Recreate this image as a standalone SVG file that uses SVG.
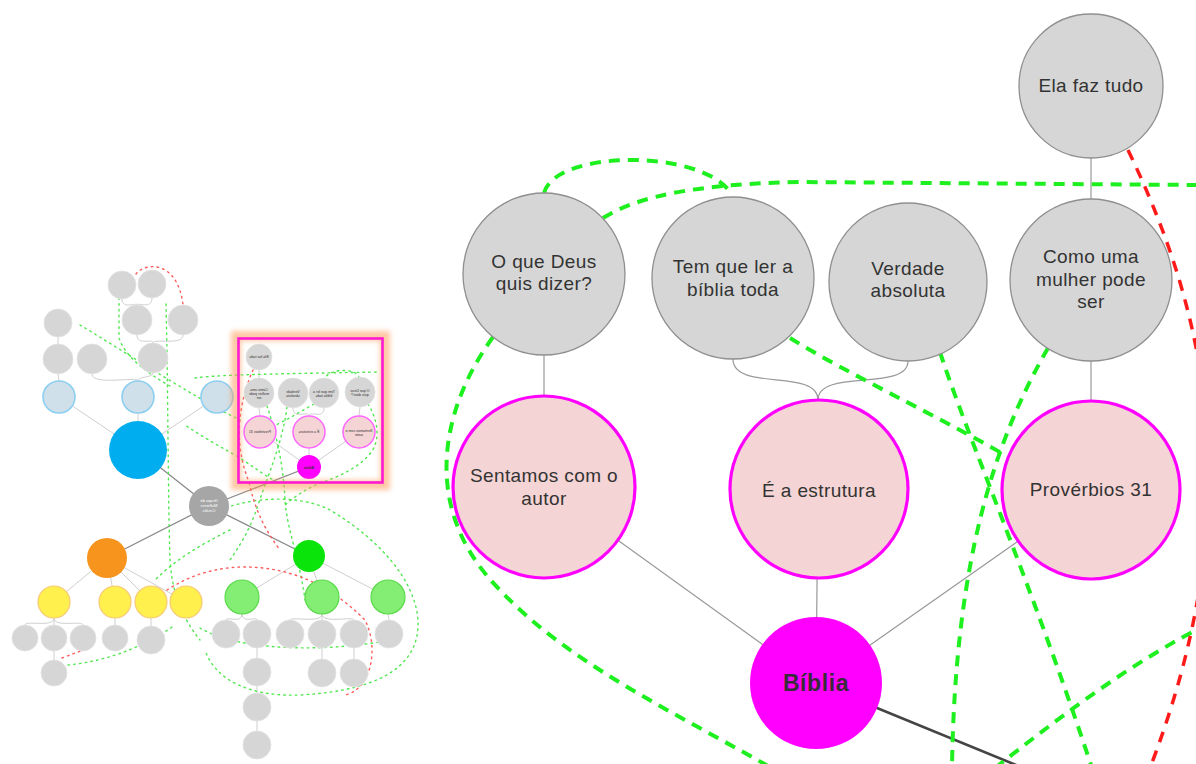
<svg xmlns="http://www.w3.org/2000/svg" width="1196" height="764" viewBox="0 0 1196 764">
<defs>
<style>
.g{fill:#d6d6d6;stroke:#8f8f8f;stroke-width:1.3}
.p{fill:#f4d4d4;stroke:#ff00ff;stroke-width:3.2}
.t{font-family:"Liberation Sans",Arial,sans-serif;font-size:19px;fill:#333;text-anchor:middle;letter-spacing:0.4px}
.tb{font-family:"Liberation Sans",Arial,sans-serif;font-size:23px;font-weight:bold;fill:#3a2a3a;text-anchor:middle;letter-spacing:0.6px}
.e{fill:none;stroke:#999;stroke-width:1.2}
.gd{fill:none;stroke:#1eef1e;stroke-width:4;stroke-dasharray:11 8}
.rd{fill:none;stroke:#ff1a1a;stroke-width:3.5;stroke-dasharray:11 9}
.mg{fill:#d6d6d6;stroke:#e2e2e2;stroke-width:0.8}
.mlb{fill:#cfe0ea;stroke:#8ccff0;stroke-width:1.6}
.my{fill:#fff04d;stroke:#f8c878;stroke-width:1.2}
.mlg{fill:#84ee74;stroke:#5ad94a;stroke-width:1.2}
.mp{fill:#f4d4d4;stroke:#ff66ff;stroke-width:1.5}
.me{fill:none;stroke:#cfcfcf;stroke-width:1}
.md{fill:none;stroke:#8a8a8a;stroke-width:1.3}
.mgd{fill:none;stroke:#4fe84f;stroke-width:1.4;stroke-dasharray:1.6 4.2;stroke-linecap:round}
.mrd{fill:none;stroke:#ff5a5a;stroke-width:1.4;stroke-dasharray:1.6 4.2;stroke-linecap:round}
.mt{font-family:"Liberation Sans",Arial,sans-serif;font-size:3.6px;fill:#333;text-anchor:middle}
</style>
<filter id="blur" x="-20%" y="-20%" width="140%" height="140%"><feGaussianBlur stdDeviation="2.5"/></filter>
</defs>
<rect width="1196" height="764" fill="#fff"/>

<g id="connectors">
<path class="e" d="M1091,158 L1091,199"/>
<path class="e" d="M544,355 L544,396"/>
<path class="e" d="M733,359 C733,392 818,368 818,400"/>
<path class="e" d="M908,361 C908,392 818,368 818,400"/>
<path class="e" d="M1091,361 L1091,401"/>
<path class="e" d="M544,487 L816,683"/>
<path class="e" d="M818,489 L816,683"/>
<path class="e" d="M1091,490 L816,683"/>
<path d="M816,683 L1060,783" fill="none" stroke="#444" stroke-width="2.6"/>
<path class="gd" d="M544,193 C555,150 700,148 731,193"/>
<path class="gd" d="M603,218 C640,195 700,184 800,182 L1196,185"/>
<path class="gd" d="M493,337 C440,410 420,510 500,590 C570,665 680,715 775,770"/>
<path class="gd" d="M790,338 C850,375 930,412 1005,455"/>
<path class="gd" d="M940,352 C965,430 1030,580 1092,768"/>
<path class="gd" d="M1048,348 C995,440 955,560 952,768"/>
<path class="gd" d="M995,768 C1050,725 1120,670 1196,630"/>
<path class="rd" d="M1128,150 C1215,330 1245,520 1150,768"/>
</g>

<g id="n-ela"><circle class="g" cx="1091" cy="86" r="72"/><text class="t" x="1091" y="92">Ela faz tudo</text></g>
<g id="n-como"><circle class="g" cx="1091" cy="280" r="81"/><text class="t" x="1091" y="263">Como uma</text><text class="t" x="1091" y="286">mulher pode</text><text class="t" x="1091" y="308">ser</text></g>
<g id="n-verdade"><circle class="g" cx="908" cy="282" r="79"/><text class="t" x="908" y="275">Verdade</text><text class="t" x="908" y="297">absoluta</text></g>
<g id="n-tem"><circle class="g" cx="733" cy="278" r="81"/><text class="t" x="733" y="273">Tem que ler a</text><text class="t" x="733" y="296">bíblia toda</text></g>
<g id="n-oque"><circle class="g" cx="544" cy="274" r="81"/><text class="t" x="544" y="268">O que Deus</text><text class="t" x="544" y="290">quis dizer?</text></g>
<g id="n-sentamos"><circle class="p" cx="544" cy="487" r="91"/><text class="t" x="544" y="482">Sentamos com o</text><text class="t" x="544" y="505">autor</text></g>
<g id="n-estrutura"><circle class="p" cx="819" cy="489" r="89"/><text class="t" x="819" y="497">É a estrutura</text></g>
<g id="n-proverbios"><circle class="p" cx="1091" cy="490" r="89"/><text class="t" x="1091" y="496">Provérbios 31</text></g>
<g id="n-biblia"><circle cx="816" cy="683" r="66" fill="#ff00ff"/><text class="tb" x="816" y="691">Bíblia</text></g>

<g id="minimap">
<g id="mm-edges">
<path class="me" d="M122,299 C122,310 137,302 137,305 M152,298 C152,310 137,302 137,305"/>
<path class="me" d="M137,335 C137,346 153,338 153,343 M183,335 C183,346 153,338 153,343"/>
<path class="me" d="M92,374 C92,386 138,376 138,381 M153,373 C153,378 138,376 138,381"/>
<path class="me" d="M58,337 L58,344 M58,374 L59,381"/>
<path class="me" d="M59,397 L138,450 M138,397 L138,450 M217,397 L138,450"/>
<path class="md" d="M138,450 L209,506 M107,558 L209,506 M309,556 L209,506 M309,467 L209,506"/>
<path class="me" d="M107,558 L54,602 M107,558 L115,602 M107,558 L151,602 M107,558 L186,602"/>
<path class="me" d="M54,618 C54,628 25,620 25,625 M54,618 L54,625 M54,618 C54,628 83,620 83,625 M115,618 L115,625 M151,618 L151,626 M54,651 L54,660"/>
<path class="me" d="M309,556 L242,597 M309,556 L322,597 M309,556 L388,597"/>
<path class="me" d="M242,614 C242,624 226,616 226,620 M242,614 C242,624 257,616 257,620"/>
<path class="me" d="M322,614 C322,624 290,616 290,620 M322,614 L322,620 M322,614 C322,624 354,616 354,620 M388,614 L389,620"/>
<path class="me" d="M257,648 L257,658 M257,686 L257,693 M257,721 L257,731 M322,648 L322,659 M354,648 L354,659"/>
<path class="me" d="M259,370 L259,378 M259,408 L260,416 M293,408 C293,420 309,410 309,416 M324,408 C324,420 309,410 309,416 M360,407 L359,416"/>
<path class="me" d="M260,432 L309,467 M309,432 L309,467 M359,432 L309,467"/>
<path class="mgd" d="M80,325 C130,355 190,395 240,420"/>
<path class="mgd" d="M119,292 L119,338 C125,356 145,372 170,386"/>
<path class="mgd" d="M166,304 C168,380 168,500 170,560 C172,590 180,615 200,640"/>
<path class="mgd" d="M195,378 C215,375 260,374 380,372"/>
<path class="mgd" d="M359,378 C358,368 330,368 325,378"/>
<path class="mgd" d="M368,404 C378,420 382,442 368,456 C355,470 335,478 318,484 C305,490 295,496 285,505"/>
<path class="mgd" d="M314,404 C300,412 290,418 276,425"/>
<path class="mgd" d="M287,407 C283,440 270,470 258,505 C250,530 240,545 230,560"/>
<path class="mgd" d="M267,406 C275,430 283,460 285,500 C287,530 300,560 305,600"/>
<path class="mgd" d="M277,482 C262,474 250,464 235,455 C215,444 200,435 185,425"/>
<path class="mgd" d="M200,520 C230,500 290,490 330,510 C380,540 415,580 418,620 C420,660 390,690 300,695 C250,697 215,680 205,650"/>
<path class="mgd" d="M68,665 C100,662 140,650 175,625"/>
<path class="mgd" d="M230,530 C200,545 175,560 155,580"/>
<path class="mgd" d="M200,628 C240,652 330,652 390,640"/>
<path class="mrd" d="M136,274 C145,262 178,260 183,305"/>
<path class="mrd" d="M253,370 C240,400 232,440 249,482 C255,510 265,530 280,550"/>
<path class="mrd" d="M167,590 C190,575 215,568 240,567 C290,566 330,585 365,620 C380,650 370,690 345,695"/>
<path class="mrd" d="M62,658 C70,655 78,652 83,650"/>
</g>
<g id="mm-nodes">
<circle class="mg" cx="122" cy="285" r="14"/>
<circle class="mg" cx="152" cy="284" r="14"/>
<circle class="mg" cx="137" cy="320" r="15"/>
<circle class="mg" cx="183" cy="320" r="15"/>
<circle class="mg" cx="58" cy="323" r="14"/>
<circle class="mg" cx="58" cy="359" r="15"/>
<circle class="mg" cx="92" cy="359" r="15"/>
<circle class="mg" cx="153" cy="358" r="15"/>
<circle class="mlb" cx="59" cy="397" r="16"/>
<circle class="mlb" cx="138" cy="397" r="16"/>
<circle class="mlb" cx="217" cy="397" r="16"/>
<circle cx="138" cy="450" r="29" fill="#00aeef"/>
<circle cx="209" cy="506" r="20" fill="#a6a6a6"/>
<circle cx="107" cy="558" r="20" fill="#f7941d"/>
<circle class="my" cx="54" cy="602" r="16"/>
<circle class="my" cx="115" cy="602" r="16"/>
<circle class="my" cx="151" cy="602" r="16"/>
<circle class="my" cx="186" cy="602" r="16"/>
<circle class="mg" cx="25" cy="638" r="13"/>
<circle class="mg" cx="54" cy="638" r="13"/>
<circle class="mg" cx="83" cy="638" r="13"/>
<circle class="mg" cx="115" cy="638" r="13"/>
<circle class="mg" cx="151" cy="640" r="14"/>
<circle class="mg" cx="54" cy="673" r="13"/>
<circle cx="309" cy="556" r="16" fill="#0be40b"/>
<circle class="mlg" cx="242" cy="597" r="17"/>
<circle class="mlg" cx="322" cy="597" r="17"/>
<circle class="mlg" cx="388" cy="597" r="17"/>
<circle class="mg" cx="226" cy="634" r="14"/>
<circle class="mg" cx="257" cy="634" r="14"/>
<circle class="mg" cx="290" cy="634" r="14"/>
<circle class="mg" cx="322" cy="634" r="14"/>
<circle class="mg" cx="354" cy="634" r="14"/>
<circle class="mg" cx="389" cy="634" r="14"/>
<circle class="mg" cx="257" cy="672" r="14"/>
<circle class="mg" cx="257" cy="707" r="14"/>
<circle class="mg" cx="257" cy="745" r="14"/>
<circle class="mg" cx="322" cy="673" r="14"/>
<circle class="mg" cx="354" cy="673" r="14"/>
<circle class="mg" cx="259" cy="357" r="13"/>
<circle class="mg" cx="259" cy="393" r="15"/>
<circle class="mg" cx="293" cy="393" r="15"/>
<circle class="mg" cx="324" cy="393" r="15"/>
<circle class="mg" cx="360" cy="392" r="15"/>
<circle class="mp" cx="260" cy="432" r="16"/>
<circle class="mp" cx="309" cy="432" r="16"/>
<circle class="mp" cx="359" cy="432" r="16"/>
<circle cx="309" cy="467" r="12" fill="#ff00ff"/>
<g class="mt">
<text transform="translate(259,358.3) scale(-1,1)">Ela faz tudo</text>
<text transform="translate(259,391) scale(-1,1)">Como uma</text>
<text transform="translate(259,395) scale(-1,1)">mulher pode</text>
<text transform="translate(259,399) scale(-1,1)">ser</text>
<text transform="translate(293,392.5) scale(-1,1)">Verdade</text>
<text transform="translate(293,396.5) scale(-1,1)">absoluta</text>
<text transform="translate(324,392.5) scale(-1,1)">Tem que ler a</text>
<text transform="translate(324,396.5) scale(-1,1)">bíblia toda</text>
<text transform="translate(360,391.5) scale(-1,1)">O que Deus</text>
<text transform="translate(360,395.5) scale(-1,1)">quis dizer?</text>
<text transform="translate(260,433.3) scale(-1,1)">Provérbios 31</text>
<text transform="translate(309,433.3) scale(-1,1)">É a estrutura</text>
<text transform="translate(359,431.5) scale(-1,1)">Sentamos com o</text>
<text transform="translate(359,435.5) scale(-1,1)">autor</text>
<text transform="translate(309,468.5) scale(-1,1)" font-weight="bold">Bíblia</text>
<text transform="translate(209,502) scale(-1,1)" style="fill:#fff;font-size:4.2px">Grupo de</text>
<text transform="translate(209,507) scale(-1,1)" style="fill:#fff;font-size:4.2px">Mulheres</text>
<text transform="translate(209,512) scale(-1,1)" style="fill:#fff;font-size:4.2px">Cristãs</text>
</g>
</g>
<g id="mm-viewport">
<rect x="236" y="336" width="149" height="149" fill="none" stroke="#ff9a5a" stroke-width="10" opacity="0.55" filter="url(#blur)"/>
<rect x="238.5" y="338.5" width="144" height="144" fill="none" stroke="#ff1ad0" stroke-width="2.6"/>
</g>
</g>
</svg>
